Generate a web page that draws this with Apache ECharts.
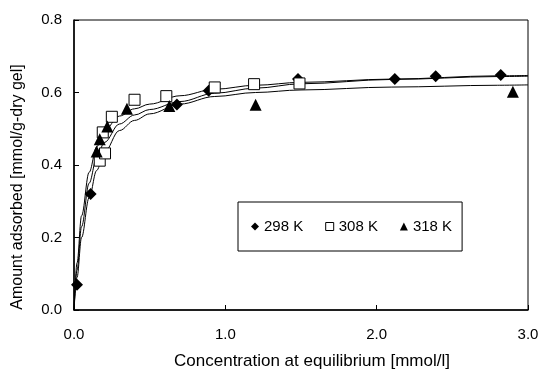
<!DOCTYPE html>
<html><head><meta charset="utf-8">
<script src="https://cdn.jsdelivr.net/npm/echarts@6/dist/echarts.min.js"></script>
<style>html,body{margin:0;padding:0;background:#fff}#c{width:540px;height:369px}</style>
</head><body><div id="c"></div>
<script>
// Measured points
var s298 = [[0.02,0.07],[0.11,0.32],[0.68,0.567],[0.89,0.605],[1.48,0.637],[2.12,0.637],[2.39,0.645],[2.82,0.648]];
var s308 = [[0.17,0.412],[0.205,0.432],[0.19,0.49],[0.25,0.533],[0.40,0.58],[0.61,0.59],[0.93,0.614],[1.19,0.623],[1.49,0.625]];
var s318 = [[0.15,0.437],[0.17,0.471],[0.22,0.506],[0.35,0.555],[0.63,0.563],[1.20,0.566],[2.90,0.602]];
// Fitted curves
var curveX = [0, 0.02, 0.05, 0.1, 0.15, 0.2, 0.3, 0.4, 0.5, 0.7, 0.93, 1.2, 1.5, 2.1, 2.8, 3.0];
var curveUpper = [0, 0.13, 0.26, 0.38, 0.45, 0.495, 0.535, 0.555, 0.568, 0.591, 0.609, 0.62, 0.628, 0.637, 0.646, 0.647];
var curveMiddle = [0, 0.11, 0.23, 0.35, 0.42, 0.462, 0.513, 0.538, 0.553, 0.575, 0.598, 0.612, 0.624, 0.636, 0.644, 0.645];
var curveLower = [0, 0.09, 0.2, 0.31, 0.385, 0.435, 0.495, 0.523, 0.541, 0.568, 0.589, 0.600, 0.607, 0.615, 0.620, 0.621];
var legendNames = ['298 K', '308 K', '318 K'];
var xTitle = 'Concentration at equilibrium [mmol/l]';
var yTitle = 'Amount adsorbed [mmol/g-dry gel]';

function zip(xs, ys){ return xs.map(function(x,i){return [x, ys[i]];}); }
var font = 'Liberation Sans, Arial, sans-serif';
function curve(ys){
  return {type:'line', data: zip(curveX, ys), showSymbol:false, symbol:'none', smooth:0.35, smoothMonotone:'x',
    lineStyle:{color:'#000', width:1}, z:2, silent:true, legendHoverLink:false};
}
var chart = echarts.init(document.getElementById('c'), null, {renderer:'canvas'});
chart.setOption({
  animation:false,
  backgroundColor:'#fff',
  grid:{left:74, right:12, top:20, bottom:59, show:true, borderColor:'#000', borderWidth:1, backgroundColor:'transparent',
    containLabel:false, outerBoundsMode:'none'},
  xAxis:{type:'value', min:0, max:3, interval:1,
    axisLine:{show:true, lineStyle:{color:'#000', width:1.5}},
    axisTick:{show:true, inside:true, length:5, lineStyle:{color:'#000'}},
    splitLine:{show:false},
    axisLabel:{color:'#000', fontFamily:font, fontSize:15, margin:17, formatter:function(v){return v.toFixed(1);}},
    name:xTitle, nameLocation:'middle', nameGap:43, nameTextStyle:{color:'#000', fontFamily:font, fontSize:17, padding:[0,0,0,22]}},
  yAxis:{type:'value', min:0, max:0.8, interval:0.2,
    axisLine:{show:true, lineStyle:{color:'#000', width:1.5}},
    axisTick:{show:true, inside:true, length:5, lineStyle:{color:'#000'}},
    splitLine:{show:false},
    axisLabel:{color:'#000', fontFamily:font, fontSize:15, margin:12, formatter:function(v){return v.toFixed(1);}},
    name:yTitle, nameLocation:'middle', nameGap:48, nameTextStyle:{color:'#000', fontFamily:font, fontSize:16, padding:[0,44,0,0]}},
  legend:{left:238, top:202, orient:'horizontal', itemWidth:8, itemHeight:8, itemGap:22,
    padding:[17, 10, 17, 13], borderColor:'#000', borderWidth:1, backgroundColor:'#fff',
    textStyle:{color:'#000', fontFamily:font, fontSize:15},
    data:[
      {name:legendNames[0], icon:'diamond', itemStyle:{color:'#000'}},
      {name:legendNames[1], icon:'rect', itemStyle:{color:'#fff', borderColor:'#000', borderWidth:1}},
      {name:legendNames[2], icon:'triangle', itemStyle:{color:'#000'}}
    ]},
  series:[
    curve(curveUpper), curve(curveMiddle), curve(curveLower),
    {name:legendNames[0], type:'scatter', data:s298, symbol:'diamond', symbolSize:12, itemStyle:{color:'#000', opacity:1}, z:3},
    {name:legendNames[1], type:'scatter', data:s308, symbol:'rect', symbolSize:11, itemStyle:{color:'#fff', borderColor:'#000', borderWidth:1, opacity:1}, z:4},
    {name:legendNames[2], type:'scatter', data:s318, symbol:'triangle', symbolSize:12, itemStyle:{color:'#000', opacity:1}, z:5}
  ]
});
</script></body></html>
